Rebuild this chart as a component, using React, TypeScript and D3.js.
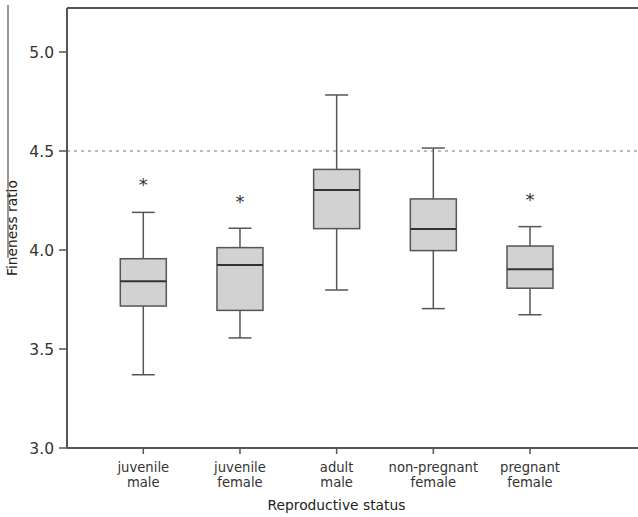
import React from "react";
import * as d3 from "d3";

const categories = ["juvenile male", "juvenile female", "adult male", "non-pregnant female", "pregnant female"];
const labelLines = [["juvenile", "male"], ["juvenile", "female"], ["adult", "male"], ["non-pregnant", "female"], ["pregnant", "female"]];
const whiskerLow = [3.37, 3.556, 3.798, 3.704, 3.673];
const q1 = [3.717, 3.695, 4.108, 3.997, 3.807];
const medians = [3.842, 3.924, 4.303, 4.106, 3.903];
const q3 = [3.956, 4.012, 4.407, 4.258, 4.02];
const whiskerHigh = [4.19, 4.11, 4.783, 4.515, 4.118];
const starValues = [4.342, 4.253, null, null, 4.266];
const yTicks = [3.0, 3.5, 4.0, 4.5, 5.0];
const refLine = 4.5;

const W = 638, H = 517;
const left = 67, top = 8, bottom = 448, right = 640;
const font = "'DejaVu Sans', sans-serif";
const axisColor = "#555";

export default function App() {
  const yy = d3.scaleLinear().domain([3, 5]).range([bottom, bottom - 396]);
  const x = d3.scalePoint<string>().domain(categories).range([143.3, 530]);
  const boxW = 46;
  const capW = 23;
  return (
    <svg width={W} height={H} style={{ position: "absolute", left: 0, top: 0, background: "#fff" }}>
      <line x1={8} x2={8} y1={5} y2={258} stroke="#777" strokeWidth={1.5} />
      <line x1={left} x2={W} y1={yy(refLine)} y2={yy(refLine)} stroke="#777" strokeWidth={1.2} strokeDasharray="3,4" />
      <line x1={left} x2={right} y1={top} y2={top} stroke={axisColor} strokeWidth={2} />
      <line x1={left} x2={right} y1={bottom} y2={bottom} stroke={axisColor} strokeWidth={2} />
      <line x1={left} x2={left} y1={top} y2={bottom} stroke={axisColor} strokeWidth={2} />
      {yTicks.map((t) => (
        <g key={t}>
          <line x1={left - 8} x2={left} y1={yy(t)} y2={yy(t)} stroke={axisColor} strokeWidth={1.5} />
          <text x={left - 13} y={yy(t)} dy="0.36em" textAnchor="end" fontFamily={font} fontSize={15.5} fill="#333">
            {d3.format(".1f")(t)}
          </text>
        </g>
      ))}
      <text transform={`translate(17,${(top + bottom) / 2}) rotate(-90)`} textAnchor="middle" fontFamily={font} fontSize={13.8} fill="#222">
        Fineness ratio
      </text>
      {categories.map((c, i) => (
        <g key={c}>
          <line x1={x(c)} x2={x(c)} y1={bottom} y2={bottom + 6} stroke={axisColor} strokeWidth={1.5} />
          {labelLines[i].map((l, j) => (
            <text key={j} x={x(c)} y={467.5 + j * 14.5} dy="0.36em" textAnchor="middle" fontFamily={font} fontSize={13.2} fill="#333">
              {l}
            </text>
          ))}
        </g>
      ))}
      <text x={336.5} y={505} dy="0.36em" textAnchor="middle" fontFamily={font} fontSize={13.8} fill="#222">
        Reproductive status
      </text>
      {categories.map((c, i) => {
        const cx = x(c) as number;
        return (
          <g key={c} stroke={axisColor} strokeWidth={1.5}>
            <line x1={cx} x2={cx} y1={yy(whiskerLow[i])} y2={yy(q1[i])} />
            <line x1={cx} x2={cx} y1={yy(q3[i])} y2={yy(whiskerHigh[i])} />
            <line x1={cx - capW / 2} x2={cx + capW / 2} y1={yy(whiskerLow[i])} y2={yy(whiskerLow[i])} />
            <line x1={cx - capW / 2} x2={cx + capW / 2} y1={yy(whiskerHigh[i])} y2={yy(whiskerHigh[i])} />
            <rect x={cx - boxW / 2} y={yy(q3[i])} width={boxW} height={yy(q1[i]) - yy(q3[i])} fill="#d2d2d2" />
            <line x1={cx - boxW / 2} x2={cx + boxW / 2} y1={yy(medians[i])} y2={yy(medians[i])} stroke="#333" strokeWidth={2} />
            {starValues[i] !== null && (
              <text x={cx} y={yy(starValues[i] as number)} dy="0.46em" textAnchor="middle" fontFamily={font} fontSize={18} fill="#333" stroke="none">
                *
              </text>
            )}
          </g>
        );
      })}
    </svg>
  );
}
